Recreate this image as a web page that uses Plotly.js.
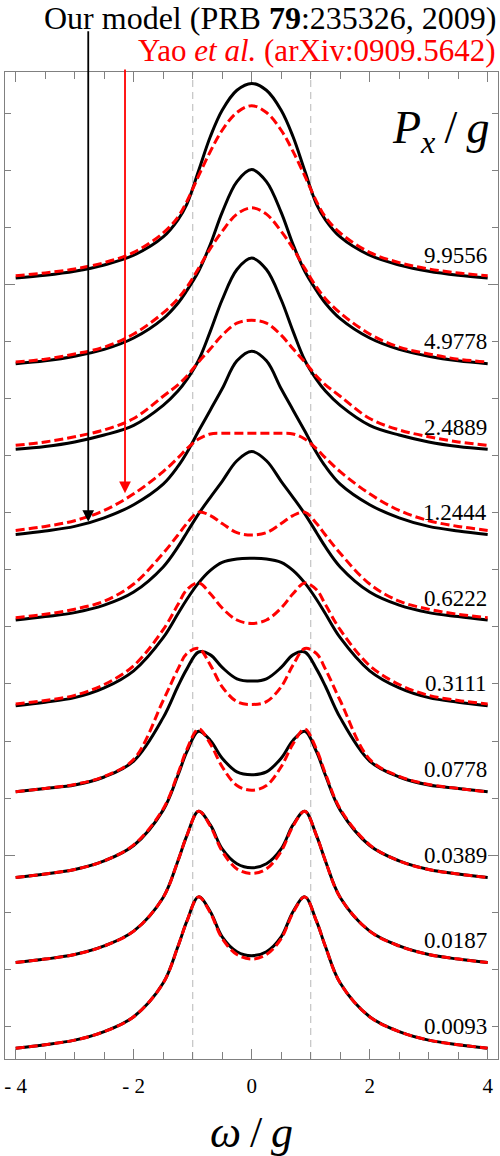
<!DOCTYPE html>
<html>
<head>
<meta charset="utf-8">
<script src="https://cdn.plot.ly/plotly-3.0.1.min.js"></script>
<style>body{margin:0;background:#fff}</style>
</head>
<body>
<div id="graf" style="width:500px;height:1156px"></div>
<script>
// omega/g sample points
let omega = [-4, -3.5, -3, -2.5, -2, -1.5, -1.25, -1.1, -0.9, -0.7, -0.5, -0.25, 0,
    0.25, 0.5, 0.7, 0.9, 1.1, 1.25, 1.5, 2, 2.5, 3, 3.5, 4];

// P_x/g of every curve, bottom to top
let pxLabels = ["0.0093", "0.0187", "0.0389", "0.0778", "0.3111", "0.6222", "1.2444", "2.4889", "4.9778", "9.9556"];

// our model (black, solid), bottom to top, without the vertical shift
let ours = [
    [0.19, 0.25, 0.33, 0.48, 0.74, 1.33, 1.97, 2.41, 2.84, 2.58, 2.14, 1.88, 1.81, 1.88, 2.14, 2.58, 2.84, 2.41, 1.97, 1.33, 0.74, 0.48, 0.33, 0.25, 0.19],
    [0.19, 0.25, 0.33, 0.48, 0.74, 1.33, 1.97, 2.41, 2.84, 2.60, 2.18, 1.92, 1.85, 1.92, 2.18, 2.60, 2.84, 2.41, 1.97, 1.33, 0.74, 0.48, 0.33, 0.25, 0.19],
    [0.18, 0.24, 0.32, 0.47, 0.74, 1.36, 1.97, 2.38, 2.74, 2.58, 2.27, 2.03, 1.98, 2.03, 2.27, 2.58, 2.74, 2.38, 1.97, 1.36, 0.74, 0.47, 0.32, 0.24, 0.18],
    [0.18, 0.24, 0.30, 0.44, 0.72, 1.48, 2.03, 2.33, 2.63, 2.58, 2.36, 2.16, 2.12, 2.16, 2.36, 2.58, 2.63, 2.33, 2.03, 1.48, 0.72, 0.44, 0.30, 0.24, 0.18],
    [0.19, 0.25, 0.33, 0.50, 0.80, 1.38, 1.80, 2.05, 2.34, 2.56, 2.70, 2.76, 2.77, 2.76, 2.70, 2.56, 2.34, 2.05, 1.80, 1.38, 0.80, 0.50, 0.33, 0.25, 0.19],
    [0.19, 0.25, 0.32, 0.45, 0.68, 1.12, 1.47, 1.72, 2.05, 2.34, 2.62, 2.98, 3.14, 2.98, 2.62, 2.34, 2.05, 1.72, 1.47, 1.12, 0.68, 0.45, 0.32, 0.25, 0.19],
    [0.19, 0.25, 0.33, 0.48, 0.71, 1.07, 1.38, 1.62, 2.00, 2.37, 2.74, 3.23, 3.40, 3.23, 2.74, 2.37, 2.00, 1.62, 1.38, 1.07, 0.71, 0.48, 0.33, 0.25, 0.19],
    [0.18, 0.23, 0.31, 0.43, 0.60, 0.95, 1.20, 1.40, 1.74, 2.25, 2.80, 3.33, 3.53, 3.33, 2.80, 2.25, 1.74, 1.40, 1.20, 0.95, 0.60, 0.43, 0.31, 0.23, 0.18],
    [0.18, 0.23, 0.31, 0.43, 0.63, 0.97, 1.24, 1.46, 1.80, 2.27, 2.83, 3.37, 3.58, 3.37, 2.83, 2.27, 1.80, 1.46, 1.24, 0.97, 0.63, 0.43, 0.31, 0.23, 0.18],
    [0.18, 0.23, 0.30, 0.41, 0.58, 0.90, 1.20, 1.47, 2.06, 2.66, 3.12, 3.47, 3.59, 3.47, 3.12, 2.66, 2.06, 1.47, 1.20, 0.90, 0.58, 0.41, 0.30, 0.23, 0.18]
];

// Yao et al. (red, dashed), bottom to top
let yao = [
    [0.19, 0.25, 0.33, 0.48, 0.74, 1.33, 1.97, 2.41, 2.84, 2.56, 2.11, 1.83, 1.75, 1.83, 2.11, 2.56, 2.84, 2.41, 1.97, 1.33, 0.74, 0.48, 0.33, 0.25, 0.19],
    [0.19, 0.25, 0.33, 0.48, 0.74, 1.33, 1.97, 2.41, 2.84, 2.58, 2.14, 1.83, 1.75, 1.83, 2.14, 2.58, 2.84, 2.41, 1.97, 1.33, 0.74, 0.48, 0.33, 0.25, 0.19],
    [0.18, 0.24, 0.32, 0.47, 0.75, 1.38, 2.00, 2.42, 2.78, 2.52, 2.12, 1.79, 1.71, 1.79, 2.12, 2.52, 2.78, 2.42, 2.00, 1.38, 0.75, 0.47, 0.32, 0.24, 0.18],
    [0.18, 0.24, 0.31, 0.45, 0.75, 1.78, 2.33, 2.60, 2.69, 2.40, 2.02, 1.76, 1.71, 1.76, 2.02, 2.40, 2.69, 2.60, 2.33, 1.78, 0.75, 0.45, 0.31, 0.24, 0.18],
    [0.22, 0.28, 0.37, 0.56, 0.89, 1.52, 1.96, 2.22, 2.34, 2.15, 1.90, 1.69, 1.63, 1.69, 1.90, 2.15, 2.34, 2.22, 1.96, 1.52, 0.89, 0.56, 0.37, 0.28, 0.22],
    [0.23, 0.29, 0.38, 0.52, 0.82, 1.36, 1.68, 1.88, 2.08, 2.02, 1.88, 1.72, 1.68, 1.72, 1.88, 2.02, 2.08, 1.88, 1.68, 1.36, 0.82, 0.52, 0.38, 0.29, 0.23],
    [0.26, 0.33, 0.43, 0.61, 0.90, 1.29, 1.53, 1.69, 1.86, 1.95, 1.96, 1.96, 1.96, 1.96, 1.96, 1.95, 1.86, 1.69, 1.53, 1.29, 0.90, 0.61, 0.43, 0.33, 0.26],
    [0.25, 0.31, 0.40, 0.52, 0.72, 1.11, 1.31, 1.46, 1.71, 1.94, 2.18, 2.39, 2.44, 2.39, 2.18, 1.94, 1.71, 1.46, 1.31, 1.11, 0.72, 0.52, 0.40, 0.31, 0.25],
    [0.21, 0.26, 0.35, 0.47, 0.70, 1.07, 1.32, 1.52, 1.85, 2.20, 2.50, 2.80, 2.91, 2.80, 2.50, 2.20, 1.85, 1.52, 1.32, 1.07, 0.70, 0.47, 0.35, 0.26, 0.21],
    [0.22, 0.27, 0.34, 0.45, 0.63, 0.97, 1.25, 1.52, 1.97, 2.40, 2.77, 3.08, 3.20, 3.08, 2.77, 2.40, 1.97, 1.52, 1.25, 0.97, 0.63, 0.45, 0.34, 0.27, 0.22]
];

let korak = 1.5; // vertical shift between curves
let serif = "Liberation Serif";
let siva = "#808080";
let tanko = "\u2009";

let data = [];
let opombe = [];
for (let i = 0; i < ours.length; i++) {
    data.push({
        x: omega,
        y: ours[i].map(v => v + i * korak),
        type: "scatter", mode: "lines",
        line: { color: "black", width: 3, shape: "spline", smoothing: 1 },
        hoverinfo: "skip"
    });
    data.push({
        x: omega,
        y: yao[i].map(v => v + i * korak),
        type: "scatter", mode: "lines",
        line: { color: "#ff0000", width: 3, dash: "9px,4px", shape: "spline", smoothing: 1 },
        hoverinfo: "skip"
    });
    opombe.push({
        x: 4.03, y: i * korak + 0.57, xref: "x", yref: "y",
        text: pxLabels[i], showarrow: false,
        xanchor: "right", yanchor: "middle",
        font: { family: serif, size: 23, color: "black" }
    });
}

// arrows pointing to the 1.2444 curves
opombe.push({
    x: -2.77, y: 9.41, ax: -2.77, ay: 18.03, axref: "x", ayref: "y",
    xref: "x", yref: "y", text: "", showarrow: true,
    arrowhead: 2, arrowsize: 1.3, arrowwidth: 1.8, arrowcolor: "black"
});
opombe.push({
    x: -2.147, y: 9.91, ax: -2.147, ay: 17.36, axref: "x", ayref: "y",
    xref: "x", yref: "y", text: "", showarrow: true,
    arrowhead: 2, arrowsize: 1.3, arrowwidth: 1.8, arrowcolor: "#ff0000"
});

// texts
opombe.push({
    x: 1, y: 1.0547, xref: "paper", yref: "paper", xanchor: "right", yanchor: "middle",
    text: "Our model (PRB <b>79</b>:235326, 2009)", showarrow: false,
    font: { family: serif, size: 32, color: "black" }
});
opombe.push({
    x: 1, y: 1.0213, xref: "paper", yref: "paper", xanchor: "right", yanchor: "middle",
    text: "Yao <i>et al.</i> (arXiv:0909.5642)", showarrow: false,
    font: { family: serif, size: 31, color: "#ff0000" }
});
opombe.push({
    x: 0.885, y: 0.94, xref: "paper", yref: "paper", xanchor: "center", yanchor: "middle",
    text: "<i>P</i><sub><i>x</i></sub>" + tanko + "/" + tanko + "<i>g</i>", showarrow: false,
    font: { family: serif, size: 46, color: "black" }
});
opombe.push({
    x: 0.5, y: -0.074, xref: "paper", yref: "paper", xanchor: "center", yanchor: "middle",
    text: "<i>ω</i>" + tanko + "/" + tanko + "<i>g</i>", showarrow: false,
    font: { family: serif, size: 44, color: "black" }
});

let layout = {
    width: 500, height: 1156,
    margin: { l: 5, r: 2, t: 72, b: 97 },
    showlegend: false,
    paper_bgcolor: "white", plot_bgcolor: "white",
    xaxis: {
        range: [-4.181, 4.175],
        showline: true, linecolor: siva, linewidth: 1, mirror: "ticks",
        ticks: "inside", ticklen: 10, tickcolor: siva, tickwidth: 1,
        tickmode: "array",
        tickvals: [-4, -2, 0, 2, 4],
        ticktext: ["- 4", "- 2", "0", "2", "4"],
        tickfont: { family: serif, size: 21, color: "black" },
        ticklabelstandoff: 8,
        minor: {
            tickmode: "array",
            tickvals: [-3.5, -3, -2.5, -1.5, -1, -0.5, 0.5, 1, 1.5, 2.5, 3, 3.5],
            ticks: "inside", ticklen: 7, tickcolor: siva
        },
        showgrid: false, zeroline: false
    },
    yaxis: {
        range: [0, 17.29],
        showline: true, linecolor: siva, linewidth: 1, mirror: "ticks",
        ticks: "inside", ticklen: 10, tickcolor: siva,
        tickmode: "linear", tick0: 3.57, dtick: 10,
        showticklabels: false,
        minor: { tickmode: "linear", tick0: 0.57, dtick: 1, ticks: "inside", ticklen: 6, tickcolor: siva },
        showgrid: false, zeroline: false
    },
    shapes: [-1, 1].map(w => ({
        type: "line", xref: "x", yref: "paper", x0: w, x1: w, y0: 0, y1: 1,
        line: { color: "#c8c8c8", width: 1.3, dash: "7px,5px" }, layer: "below"
    })),
    annotations: opombe
};

Plotly.newPlot("graf", data, layout, { staticPlot: true });
</script>
</body>
</html>
